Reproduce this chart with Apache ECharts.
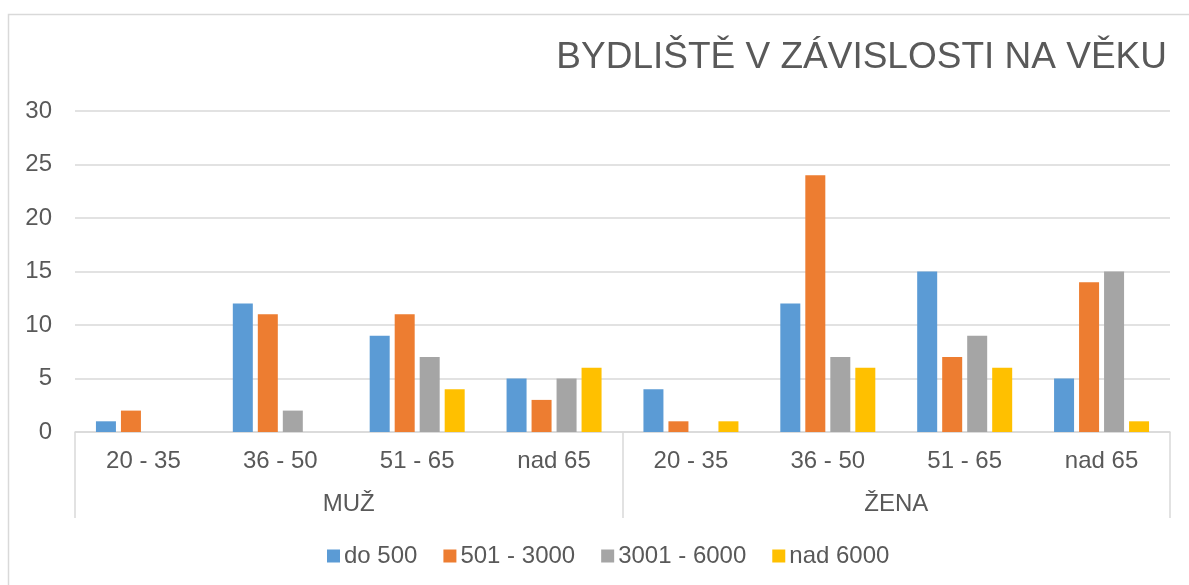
<!DOCTYPE html>
<html>
<head>
<meta charset="utf-8">
<script src="https://cdn.jsdelivr.net/npm/echarts@6/dist/echarts.min.js"></script>
<style>html,body{margin:0;padding:0;background:#fff;}#c{width:1189px;height:585px;}</style>
</head>
<body>
<div id="c"></div>
<script>
const title = 'BYDLIŠTĚ V ZÁVISLOSTI NA VĚKU';
const ageCategories = ['20 - 35', '36 - 50', '51 - 65', 'nad 65', '20 - 35', '36 - 50', '51 - 65', 'nad 65'];
const groups = ['MUŽ', 'ŽENA'];
const seriesNames = ['do 500', '501 - 3000', '3001 - 6000', 'nad 6000'];
const do500 = [1, 12, 9, 5, 4, 12, 15, 5];
const s501_3000 = [2, 11, 11, 3, 1, 24, 7, 14];
const s3001_6000 = [0, 2, 7, 5, 0, 7, 9, 15];
const nad6000 = [0, 0, 4, 6, 1, 6, 6, 1];
const colors = ['#5B9BD5', '#ED7D31', '#A5A5A5', '#FFC000'];

const font = 'Liberation Sans, Arial, sans-serif';
const txt = '#595959';
const lineC = '#D9D9D9';
const values = [do500, s501_3000, s3001_6000, nad6000];

const chart = echarts.init(document.getElementById('c'), null, {renderer: 'canvas'});
chart.setOption({
  animation: false,
  backgroundColor: '#fff',
  color: colors,
  graphic: [{
    type: 'rect', silent: true, z: -10,
    shape: {x: 8.5, y: 14.5, width: 1400, height: 800},
    style: {fill: 'none', stroke: lineC, lineWidth: 1.5}
  }],
  title: {
    text: title, right: 17, top: 34,
    textStyle: {fontFamily: font, fontSize: 37, fontWeight: 'normal', color: txt}
  },
  legend: {
    data: seriesNames, left: 322, top: 539,
    icon: 'rect', itemWidth: 13, itemHeight: 13, itemGap: 26,
    textStyle: {fontFamily: font, fontSize: 24, color: txt, padding: [0, 0, 0, -1]}
  },
  grid: {left: 75, right: 19, top: 111, bottom: 153, containLabel: false},
  xAxis: [{
    type: 'category', data: ageCategories, position: 'bottom',
    axisLine: {show: true, lineStyle: {color: lineC, width: 1.5}},
    axisTick: {show: false},
    axisLabel: {fontFamily: font, fontSize: 24, color: txt, margin: 17, interval: 0}
  }, {
    type: 'category', data: groups, position: 'bottom', offset: 0,
    axisLine: {show: false},
    axisTick: {show: true, length: 86, lineStyle: {color: lineC, width: 1.5}},
    axisLabel: {fontFamily: font, fontSize: 24, color: txt, margin: 60}
  }],
  yAxis: {
    type: 'value', min: 0, max: 30, interval: 5,
    axisLine: {show: false}, axisTick: {show: false},
    splitLine: {lineStyle: {color: lineC, width: 1.5}},
    axisLabel: {fontFamily: font, fontSize: 24, color: txt, margin: 23}
  },
  series: seriesNames.map((n, i) => ({
    name: n, type: 'bar', xAxisIndex: 0, data: values[i],
    barWidth: 20, barGap: '25%',
    itemStyle: {color: colors[i]}
  }))
});
</script>
</body>
</html>
